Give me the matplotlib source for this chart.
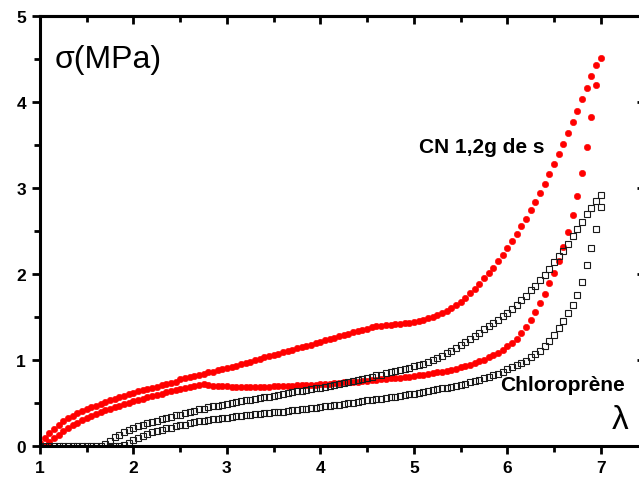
import matplotlib
matplotlib.use('Agg')
import matplotlib.pyplot as plt
from matplotlib.ticker import MultipleLocator

# strain grid (lambda), step 0.05
lam = [1.00, 1.05, 1.10, 1.15, 1.20, 1.25, 1.30, 1.35, 1.40, 1.45,
       1.50, 1.55, 1.60, 1.65, 1.70, 1.75, 1.80, 1.85, 1.90, 1.95,
       2.00, 2.05, 2.10, 2.15, 2.20, 2.25, 2.30, 2.35, 2.40, 2.45,
       2.50, 2.55, 2.60, 2.65, 2.70, 2.75, 2.80, 2.85, 2.90, 2.95,
       3.00, 3.05, 3.10, 3.15, 3.20, 3.25, 3.30, 3.35, 3.40, 3.45,
       3.50, 3.55, 3.60, 3.65, 3.70, 3.75, 3.80, 3.85, 3.90, 3.95,
       4.00, 4.05, 4.10, 4.15, 4.20, 4.25, 4.30, 4.35, 4.40, 4.45,
       4.50, 4.55, 4.60, 4.65, 4.70, 4.75, 4.80, 4.85, 4.90, 4.95,
       5.00, 5.05, 5.10, 5.15, 5.20, 5.25, 5.30, 5.35, 5.40, 5.45,
       5.50, 5.55, 5.60, 5.65, 5.70, 5.75, 5.80, 5.85, 5.90, 5.95,
       6.00, 6.05, 6.10, 6.15, 6.20, 6.25, 6.30, 6.35, 6.40, 6.45,
       6.50, 6.55, 6.60, 6.65, 6.70, 6.75, 6.80, 6.85, 6.90, 6.95,
       7.00]

# CN 1,2g de s - loading (lambda 1.00 .. 7.00)
cn_load = [0.03, 0.09, 0.15, 0.20, 0.25, 0.285, 0.32, 0.35, 0.38, 0.405,
           0.43, 0.45, 0.47, 0.49, 0.51, 0.53, 0.55, 0.57, 0.585, 0.60,
           0.62, 0.635, 0.65, 0.665, 0.68, 0.69, 0.705, 0.72, 0.73, 0.745,
           0.775, 0.785, 0.80, 0.815, 0.83, 0.84, 0.855, 0.865, 0.88, 0.895,
           0.91, 0.92, 0.935, 0.95, 0.965, 0.98, 0.995, 1.01, 1.03, 1.045,
           1.06, 1.075, 1.09, 1.105, 1.12, 1.135, 1.15, 1.165, 1.18, 1.195,
           1.21, 1.23, 1.245, 1.26, 1.275, 1.29, 1.305, 1.32, 1.335, 1.35,
           1.365, 1.38, 1.39, 1.40, 1.405, 1.41, 1.415, 1.42, 1.43, 1.435,
           1.445, 1.455, 1.47, 1.485, 1.50, 1.525, 1.55, 1.575, 1.605, 1.64,
           1.68, 1.725, 1.775, 1.83, 1.885, 1.95, 2.01, 2.075, 2.15, 2.225,
           2.305, 2.385, 2.47, 2.555, 2.645, 2.74, 2.84, 2.945, 3.05, 3.16,
           3.275, 3.395, 3.515, 3.635, 3.765, 3.895, 4.03, 4.165, 4.30, 4.43,
           4.51]

# CN 1,2g de s - unloading (lambda 1.05 .. 6.95)
cn_unload = [0.00, 0.05, 0.09, 0.13, 0.17, 0.205, 0.24, 0.27, 0.30,
             0.325, 0.35, 0.375, 0.395, 0.415, 0.435, 0.455, 0.47, 0.49, 0.505,
             0.52, 0.535, 0.55, 0.565, 0.58, 0.595, 0.61, 0.625, 0.635, 0.65,
             0.66, 0.675, 0.685, 0.695, 0.705, 0.72, 0.705, 0.70, 0.70, 0.695,
             0.695, 0.69, 0.69, 0.685, 0.685, 0.685, 0.685, 0.685, 0.69, 0.69,
             0.695, 0.695, 0.70, 0.70, 0.70, 0.705, 0.705, 0.71, 0.71, 0.715,
             0.72, 0.72, 0.725, 0.73, 0.735, 0.74, 0.745, 0.745, 0.75, 0.755,
             0.76, 0.765, 0.77, 0.775, 0.78, 0.785, 0.79, 0.795, 0.80, 0.805,
             0.81, 0.82, 0.83, 0.835, 0.845, 0.855, 0.865, 0.875, 0.885, 0.90,
             0.915, 0.93, 0.945, 0.965, 0.985, 1.005, 1.03, 1.055, 1.085, 1.12,
             1.16, 1.20, 1.25, 1.31, 1.38, 1.465, 1.56, 1.66, 1.77, 1.89,
             2.01, 2.15, 2.31, 2.49, 2.69, 2.91, 3.18, 3.48, 3.83, 4.20]

# Chloroprene - loading (lambda 1.00 .. 7.00)
cr_load = [0, 0, 0, 0, 0, 0, 0, 0, 0, 0,
           0, 0, 0, 0, 0.02, 0.06, 0.10, 0.13, 0.16, 0.185,
           0.21, 0.23, 0.25, 0.265, 0.28, 0.295, 0.31, 0.325, 0.34, 0.355,
           0.365, 0.38, 0.395, 0.41, 0.425, 0.435, 0.45, 0.46, 0.47, 0.48,
           0.49, 0.50, 0.51, 0.52, 0.53, 0.54, 0.55, 0.56, 0.57, 0.575,
           0.585, 0.595, 0.605, 0.615, 0.625, 0.635, 0.645, 0.655, 0.66, 0.67,
           0.68, 0.69, 0.70, 0.715, 0.725, 0.735, 0.745, 0.76, 0.77, 0.78,
           0.795, 0.805, 0.82, 0.83, 0.845, 0.855, 0.87, 0.885, 0.90, 0.91,
           0.925, 0.94, 0.955, 0.975, 1.00, 1.025, 1.05, 1.08, 1.11, 1.14,
           1.17, 1.205, 1.24, 1.275, 1.31, 1.36, 1.395, 1.43, 1.47, 1.51,
           1.55, 1.59, 1.645, 1.695, 1.75, 1.81, 1.86, 1.925, 1.99, 2.06,
           2.135, 2.21, 2.27, 2.35, 2.44, 2.52, 2.60, 2.70, 2.77, 2.85,
           2.92]

# Chloroprene - unloading (lambda 1.75 .. 7.00)
cr_unload = [0, 0, 0, 0.01, 0.04,
             0.07, 0.095, 0.12, 0.14, 0.16, 0.175, 0.19, 0.205, 0.215, 0.23,
             0.24, 0.25, 0.265, 0.275, 0.285, 0.295, 0.30, 0.31, 0.315, 0.325,
             0.33, 0.335, 0.345, 0.35, 0.355, 0.36, 0.37, 0.375, 0.38, 0.385,
             0.39, 0.395, 0.40, 0.41, 0.415, 0.42, 0.425, 0.43, 0.44, 0.445,
             0.45, 0.46, 0.465, 0.475, 0.48, 0.49, 0.495, 0.505, 0.51, 0.52,
             0.53, 0.535, 0.545, 0.55, 0.56, 0.57, 0.575, 0.585, 0.595, 0.60,
             0.61, 0.62, 0.63, 0.64, 0.65, 0.66, 0.67, 0.68, 0.69, 0.70,
             0.715, 0.725, 0.74, 0.755, 0.77, 0.785, 0.80, 0.82, 0.84, 0.86,
             0.89, 0.915, 0.94, 0.965, 0.99, 1.03, 1.065, 1.11, 1.165, 1.225,
             1.295, 1.37, 1.45, 1.55, 1.64, 1.76, 1.91, 2.10, 2.30, 2.52,
             2.78]

plt.rcParams['font.family'] = ['Liberation Sans', 'DejaVu Sans']
plt.rcParams['font.weight'] = 'bold'

fig = plt.figure(figsize=(6.39, 4.81), dpi=100)
ax = fig.add_axes([40 / 639, 1 - 447 / 481, 601 / 639, 430 / 481])

ax.plot(lam[:len(cn_load)], cn_load, 'o', color='#ff0000', ms=4.6, mew=0.4)
ax.plot(lam[1:1 + len(cn_unload)], cn_unload, 'o', color='#ff0000', ms=4.6, mew=0.4)
ax.plot(lam[:len(cr_load)], cr_load, 's', mfc='none', mec='#1a1a1a', ms=3.9, mew=0.8)
ax.plot(lam[len(lam) - len(cr_unload):], cr_unload, 's', mfc='none', mec='#1a1a1a', ms=3.9, mew=0.8)

ax.set_xlim(1, 7.43)
ax.set_ylim(0, 5)

for s in ax.spines.values():
    s.set_linewidth(2.2)

ax.xaxis.set_major_locator(MultipleLocator(1))
ax.xaxis.set_minor_locator(MultipleLocator(0.5))
ax.yaxis.set_major_locator(MultipleLocator(1))
ax.yaxis.set_minor_locator(MultipleLocator(0.5))
ax.tick_params(which='major', direction='out', length=6, width=2, labelsize=12.5, pad=4)
ax.tick_params(which='minor', direction='out', length=4, width=2)

# inward ticks on top and right
top = ax.secondary_xaxis('top')
top.xaxis.set_major_locator(MultipleLocator(1))
top.xaxis.set_minor_locator(MultipleLocator(0.5))
top.tick_params(which='major', direction='in', length=6, width=2, labeltop=False)
top.tick_params(which='minor', direction='in', length=4, width=2)
top.spines['top'].set_linewidth(2.2)
right = ax.secondary_yaxis('right')
right.yaxis.set_major_locator(MultipleLocator(1))
right.yaxis.set_minor_locator(MultipleLocator(0.5))
right.tick_params(which='major', direction='in', length=3, width=2, labelright=False)
right.tick_params(which='minor', direction='in', length=0)

ax.text(1.16, 4.5, 'σ(MPa)', fontsize=23, fontweight='normal', va='center', ha='left')
ax.text(5.06, 3.48, 'CN 1,2g de s', fontsize=15, va='center', ha='left')
ax.text(5.92, 0.72, 'Chloroprène', fontsize=15, va='center', ha='left')
ax.text(7.12, 0.31, 'λ', fontsize=24, fontweight='normal', va='center', ha='left')

plt.savefig('out.png', dpi=100)
